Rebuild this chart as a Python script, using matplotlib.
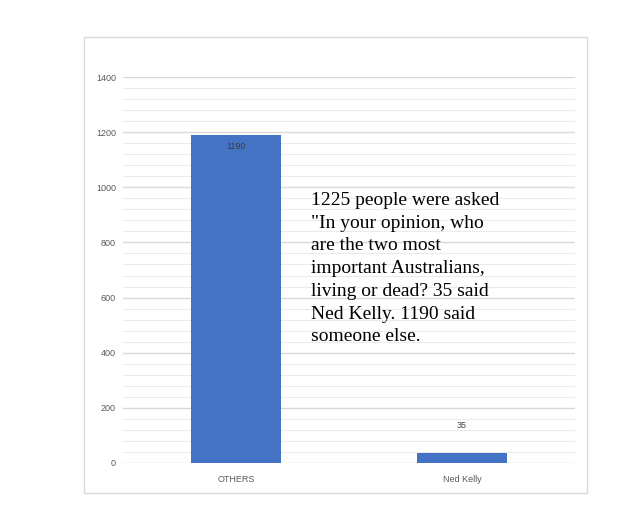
#!/usr/bin/env python3
"""
Bar chart: who are the two most important Australians (Ned Kelly vs others).
"""

import matplotlib
matplotlib.use("Agg")
import matplotlib.pyplot as plt
from matplotlib.patches import Rectangle
from matplotlib.ticker import MultipleLocator

categories = ["OTHERS", "Ned Kelly"]
counts = [1190, 35]
label_offsets = [-8.5, 20]  # points, where each value label sits relative to bar top

note = ('1225 people were asked\n"In your opinion, who\nare the two most\n'
        'important Australians,\nliving or dead? 35 said\nNed Kelly. 1190 said\n'
        'someone else.')


def main():
    fig = plt.figure(figsize=(6.4, 5.19), dpi=100)
    fig.patch.set_facecolor("white")

    # light border round the chart area
    fig.patches.append(Rectangle((84 / 640, 1 - 493 / 519), 503 / 640, 456 / 519,
                                 transform=fig.transFigure, fill=False,
                                 edgecolor="#d9d9d9", linewidth=1.0))

    ax = fig.add_axes([123 / 640, 1 - 463 / 519, 452 / 640, 386 / 519])
    x = range(len(categories))
    bars = ax.bar(x, counts, width=0.4, color="#4472C4", zorder=3)

    for bar, val, off in zip(bars, counts, label_offsets):
        ax.annotate(str(val), (bar.get_x() + bar.get_width() / 2, bar.get_height()),
                    xytext=(0, off), textcoords="offset points",
                    ha="center", va="center", fontsize=6.5, color="#404040",
                    family="Liberation Sans", zorder=4)

    ax.set_xlim(-0.5, 1.5)
    ax.set_ylim(0, 1400)
    ax.yaxis.set_major_locator(MultipleLocator(200))
    ax.yaxis.set_minor_locator(MultipleLocator(40))
    ax.grid(True, which="major", axis="y", color="#d9d9d9", linewidth=1.0, zorder=0)
    ax.grid(True, which="minor", axis="y", color="#ebebeb", linewidth=0.8, zorder=0)

    ax.set_xticks(list(x))
    ax.set_xticklabels(categories)
    for s in ax.spines.values():
        s.set_visible(False)
    ax.tick_params(axis="both", which="both", length=0, labelsize=6.5,
                   labelcolor="#595959")
    ax.tick_params(axis="x", pad=9)
    ax.tick_params(axis="y", pad=5)
    for lab in ax.get_xticklabels() + ax.get_yticklabels():
        lab.set_family("Liberation Sans")

    fig.text(311 / 640, 1 - 192 / 519, note, ha="left", va="top",
             fontsize=14, family="Liberation Serif", color="black",
             linespacing=1.44)

    fig.savefig("out.png", dpi=100, facecolor="white")


if __name__ == "__main__":
    main()
